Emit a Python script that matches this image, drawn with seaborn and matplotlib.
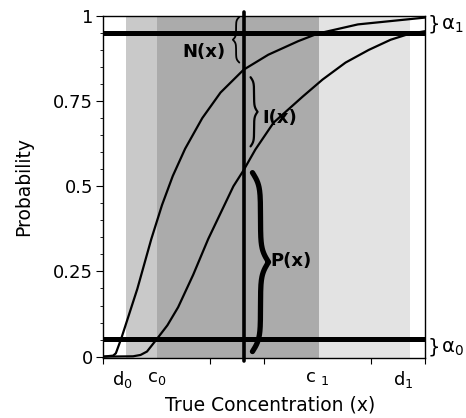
import numpy as np
import pandas as pd
import matplotlib
matplotlib.use("Agg")
import matplotlib.pyplot as plt
import seaborn as sns

# curve values (x in concentration units 0..6)
conc_a = [0, 0.19, 0.24, 0.34, 0.64, 0.90, 1.10, 1.30, 1.53, 1.85, 2.19, 2.62, 3.08, 3.64, 4.0, 4.75, 6.0]
prob_a = [0, 0.003, 0.01, 0.053, 0.199, 0.345, 0.445, 0.53, 0.61, 0.70, 0.775, 0.842, 0.886, 0.926, 0.948, 0.975, 0.995]

conc_b = [0, 0.56, 0.70, 0.82, 1.01, 1.20, 1.40, 1.68, 1.96, 2.43, 2.62, 2.84, 3.18, 3.72, 4.09, 4.52, 4.95, 5.36, 5.70, 6.0]
prob_b = [0, 0.001, 0.005, 0.015, 0.053, 0.092, 0.145, 0.24, 0.345, 0.50, 0.547, 0.608, 0.687, 0.763, 0.813, 0.863, 0.90, 0.930, 0.947, 0.955]

alpha_levels = [0.053, 0.95]
alpha_labels = ["\u03b1$\\mathregular{_0}$", "\u03b1$\\mathregular{_1}$"]
x_mark = 2.62

# shaded bands between the edges
band_edges = [0.43, 1.0, 4.02, 5.72]
band_colors = ["#c9c9c9", "#ababab", "#e3e3e3"]

tick_labels = ["$\\mathregular{d_0}$", "$\\mathregular{c_0}$",
               "$\\mathregular{c\\ _1}$", "$\\mathregular{d_1}$"]
tick_pos = [0.37, 1.0, 4.0, 5.6]

sns.set_style("ticks")
plt.rcParams["font.family"] = ["DejaVu Sans"]
for key in ["text.color", "axes.labelcolor", "xtick.color", "ytick.color", "axes.edgecolor"]:
    plt.rcParams[key] = "black"

fig = plt.figure(figsize=(4.66, 4.18), dpi=100)
ax = fig.add_axes([0.221, 0.1435, 0.691, 0.8185])

for i, col in enumerate(band_colors):
    ax.axvspan(band_edges[i], band_edges[i + 1], color=col, lw=0, zorder=0)

df = pd.concat([
    pd.DataFrame({"conc": conc_a, "prob": prob_a, "curve": "a"}),
    pd.DataFrame({"conc": conc_b, "prob": prob_b, "curve": "b"}),
])
sns.lineplot(data=df, x="conc", y="prob", units="curve", estimator=None,
             sort=False, color="black", lw=1.6, ax=ax, zorder=3)

for lev in alpha_levels:
    ax.axhline(lev, color="black", lw=3.6, zorder=4)
ax.plot([x_mark, x_mark], [-0.012, 1.012], color="black", lw=2.6,
        clip_on=False, zorder=4)


def draw_brace(ax, x0, y0, y1, width, lw):
    t = np.linspace(0, 1, 80)
    k = 14
    s = 1 / (1 + np.exp(-k * t)) + 1 / (1 + np.exp(-k * (t - 1)))
    s = (s - s[0]) / (s[-1] - s[0])
    half = (y1 - y0) / 2
    xs_half = x0 + width * s
    xs = np.concatenate([xs_half, xs_half[::-1]])
    ys = np.concatenate([y0 + half * t, y0 + half + half * t])
    ax.plot(xs, ys, color="black", lw=lw, solid_capstyle="round", zorder=5)


draw_brace(ax, 2.54, 0.863, 0.997, -0.12, 1.3)
draw_brace(ax, 2.75, 0.617, 0.82, 0.13, 1.6)
draw_brace(ax, 2.785, 0.015, 0.54, 0.30, 3.8)

ax.text(1.89, 0.895, "N(x)", fontsize=13, fontweight="bold", ha="center", va="center")
ax.text(3.29, 0.699, "I(x)", fontsize=13, fontweight="bold", ha="center", va="center")
ax.text(3.51, 0.28, "P(x)", fontsize=13, fontweight="bold", ha="center", va="center")

for lev, lab, yc in zip(alpha_levels, alpha_labels, [0.027, 0.975]):
    ax.text(6.04, yc, "}", fontsize=14, ha="left", va="center")
    ax.text(6.3, yc - 0.004, lab, fontsize=14, ha="left", va="center")

ax.set_xlim(0, 6)
ax.set_ylim(-0.004, 1.0)

ax.set_xticks(tick_pos)
ax.set_xticklabels(tick_labels, fontsize=13)
ax.set_xticks(range(7), minor=True)
ax.tick_params(axis="x", which="major", length=0, pad=8)
ax.tick_params(axis="x", which="minor", length=4, width=0.8, direction="out")

ax.set_yticks([0, 0.25, 0.5, 0.75, 1])
ax.set_yticklabels(["0", "0.25", "0.5", "0.75", "1"], fontsize=13)
ax.set_yticks(np.arange(0, 1.001, 0.05), minor=True)
ax.tick_params(axis="y", which="major", length=5, width=0.8, pad=2)
ax.tick_params(axis="y", which="minor", length=2.5, width=0.6)

for sp in ax.spines.values():
    sp.set_visible(True)
    sp.set_linewidth(1.0)

ax.set_xlabel("True Concentration (x)", fontsize=13.5)
ax.set_ylabel("Probability", fontsize=13.5)
ax.xaxis.set_label_coords(0.52, -0.137)
ax.xaxis.label.set_va("center")
ax.yaxis.set_label_coords(-0.248, 0.5)
ax.yaxis.label.set_va("center")

fig.savefig("out.png", dpi=100)
